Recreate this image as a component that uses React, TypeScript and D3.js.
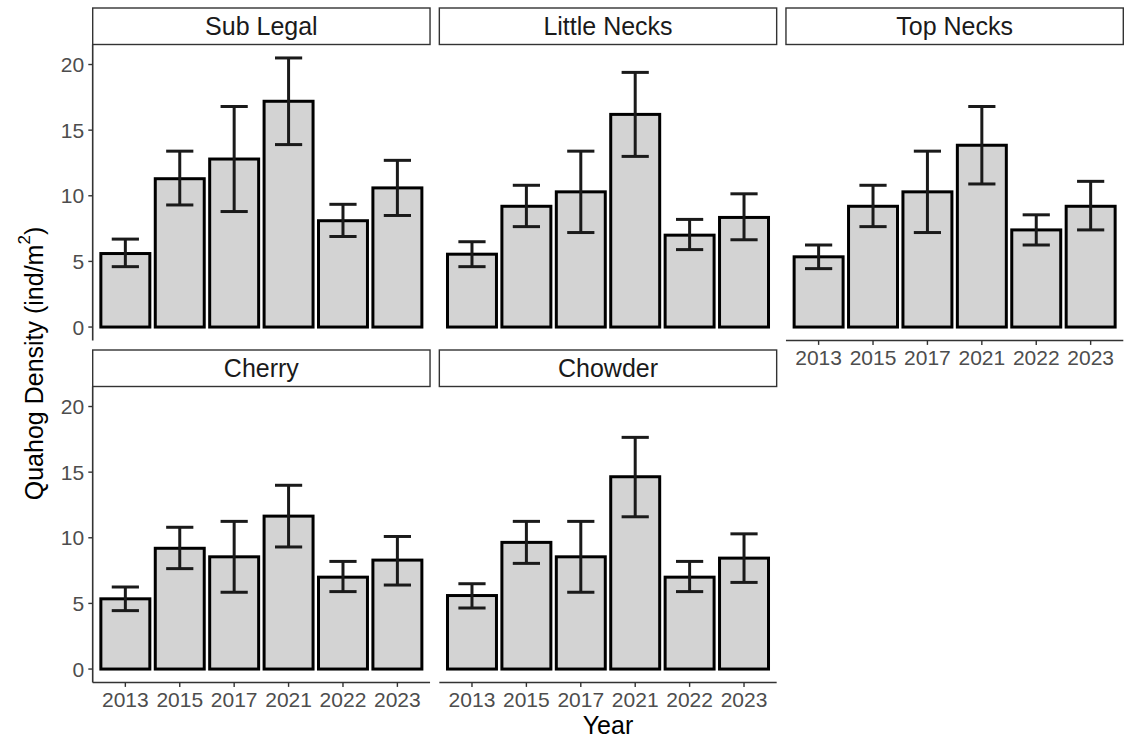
import React from "react";
import * as d3 from "d3";

// ---- data ----
const years = ["2013", "2015", "2017", "2021", "2022", "2023"];
const panels = ["Sub Legal", "Little Necks", "Top Necks", "Cherry", "Chowder"];

const subLegalMean = [5.6, 11.3, 12.8, 17.2, 8.1, 10.6];
const subLegalLower = [4.6, 9.3, 8.8, 13.9, 6.9, 8.5];
const subLegalUpper = [6.7, 13.4, 16.8, 20.5, 9.35, 12.7];

const littleNecksMean = [5.55, 9.2, 10.3, 16.2, 7.0, 8.35];
const littleNecksLower = [4.6, 7.65, 7.2, 13.0, 5.9, 6.65];
const littleNecksUpper = [6.5, 10.8, 13.4, 19.4, 8.2, 10.15];

const topNecksMean = [5.35, 9.2, 10.3, 13.85, 7.4, 9.2];
const topNecksLower = [4.45, 7.65, 7.2, 10.9, 6.25, 7.4];
const topNecksUpper = [6.25, 10.8, 13.4, 16.8, 8.55, 11.1];

const cherryMean = [5.35, 9.2, 8.55, 11.65, 7.0, 8.3];
const cherryLower = [4.45, 7.65, 5.85, 9.3, 5.9, 6.4];
const cherryUpper = [6.25, 10.8, 11.25, 14.0, 8.2, 10.1];

const chowderMean = [5.6, 9.65, 8.55, 14.65, 7.0, 8.45];
const chowderLower = [4.65, 8.05, 5.85, 11.6, 5.9, 6.6];
const chowderUpper = [6.5, 11.25, 11.25, 17.65, 8.2, 10.3];

const yTicks = [0, 5, 10, 15, 20];

const series = [
  { mean: subLegalMean, lower: subLegalLower, upper: subLegalUpper },
  { mean: littleNecksMean, lower: littleNecksLower, upper: littleNecksUpper },
  { mean: topNecksMean, lower: topNecksLower, upper: topNecksUpper },
  { mean: cherryMean, lower: cherryLower, upper: cherryUpper },
  { mean: chowderMean, lower: chowderLower, upper: chowderUpper },
];

// ---- layout ----
const W = 1134;
const H = 739;
const left = 92.7;
const right = 1123.3;
const gap = 9.3;
const panelW = (right - left - 2 * gap) / 3;
const stripH = 36.5;
const panelH = 296;
const rowTops = [8, 350];
const font = "'Liberation Sans', Arial, Helvetica, sans-serif";
const axisColor = "#333333";
const tickTextColor = "#4d4d4d";

const yMax = d3.max(series.flatMap((s) => s.upper)) as number;
const yDomain: [number, number] = [-0.05 * yMax, yMax * 1.05];

export default function App() {
  const x = d3
    .scaleBand<string>()
    .domain(years)
    .range([0, panelW])
    .paddingInner(0.1)
    .paddingOuter(0.15);
  const step = x.step();

  return (
    <svg
      width={W}
      height={H}
      style={{ position: "absolute", left: 0, top: 0, background: "#fff" }}
      fontFamily={font}
    >
      <rect width={W} height={H} fill="#fff" />
      {panels.map((name, i) => {
        const col = i % 3;
        const row = Math.floor(i / 3);
        const px = left + col * (panelW + gap);
        const sy = rowTops[row];
        const py = sy + stripH;
        const y = d3.scaleLinear().domain(yDomain).range([py + panelH, py]);
        const s = series[i];
        const showX = row === 1 || col === 2;
        const showY = col === 0;
        const capW = step * 0.5;
        return (
          <g key={name}>
            {/* strip */}
            <rect
              x={px}
              y={sy}
              width={panelW}
              height={stripH}
              fill="#fff"
              stroke={axisColor}
              strokeWidth={1.4}
            />
            <text
              x={px + panelW / 2}
              y={sy + stripH / 2 + 9}
              textAnchor="middle"
              fontSize={25}
              fill="#1a1a1a"
            >
              {name}
            </text>
            {/* bars */}
            {years.map((yr, j) => (
              <rect
                key={yr}
                x={px + (x(yr) as number)}
                y={y(s.mean[j])}
                width={x.bandwidth()}
                height={y(0) - y(s.mean[j])}
                fill="#d3d3d3"
                stroke="#000"
                strokeWidth={3}
              />
            ))}
            {/* error bars */}
            {years.map((yr, j) => {
              const cx = px + (x(yr) as number) + x.bandwidth() / 2;
              return (
                <g key={"e" + yr} stroke="#1a1a1a" strokeWidth={3} fill="none">
                  <line x1={cx} x2={cx} y1={y(s.lower[j])} y2={y(s.upper[j])} />
                  <line x1={cx - capW / 2} x2={cx + capW / 2} y1={y(s.upper[j])} y2={y(s.upper[j])} />
                  <line x1={cx - capW / 2} x2={cx + capW / 2} y1={y(s.lower[j])} y2={y(s.lower[j])} />
                </g>
              );
            })}
            {/* y axis */}
            {showY && (
              <g>
                <line x1={px} x2={px} y1={py} y2={py + panelH} stroke={axisColor} strokeWidth={1.6} />
                {yTicks.map((t) => (
                  <g key={t}>
                    <line x1={px - 4.4} x2={px} y1={y(t)} y2={y(t)} stroke={axisColor} strokeWidth={1.4} />
                    <text
                      x={px - 8.5}
                      y={y(t)}
                      dy="0.36em"
                      textAnchor="end"
                      fontSize={21}
                      fill={tickTextColor}
                    >
                      {t}
                    </text>
                  </g>
                ))}
              </g>
            )}
            {/* x axis */}
            {showX && (
              <g>
                <line
                  x1={px}
                  x2={px + panelW}
                  y1={py + panelH}
                  y2={py + panelH}
                  stroke={axisColor}
                  strokeWidth={1.6}
                />
                {years.map((yr) => {
                  const cx = px + (x(yr) as number) + x.bandwidth() / 2;
                  return (
                    <g key={"t" + yr}>
                      <line
                        x1={cx}
                        x2={cx}
                        y1={py + panelH}
                        y2={py + panelH + 4.4}
                        stroke={axisColor}
                        strokeWidth={1.4}
                      />
                      <text
                        x={cx}
                        y={py + panelH + 24.5}
                        textAnchor="middle"
                        fontSize={21}
                        fill={tickTextColor}
                      >
                        {yr}
                      </text>
                    </g>
                  );
                })}
              </g>
            )}
          </g>
        );
      })}
      {/* axis titles */}
      <text x={(left + right) / 2} y={734} textAnchor="middle" fontSize={25} fill="#000">
        Year
      </text>
      <text
        transform={`translate(43, ${(rowTops[0] + stripH + rowTops[1] + stripH + panelH) / 2}) rotate(-90)`}
        textAnchor="middle"
        fontSize={25}
        fill="#000"
      >
        Quahog Density (ind/m
        <tspan fontSize={17} dy="-0.75em">2</tspan>
        <tspan dy="0.5em">)</tspan>
      </text>
    </svg>
  );
}
